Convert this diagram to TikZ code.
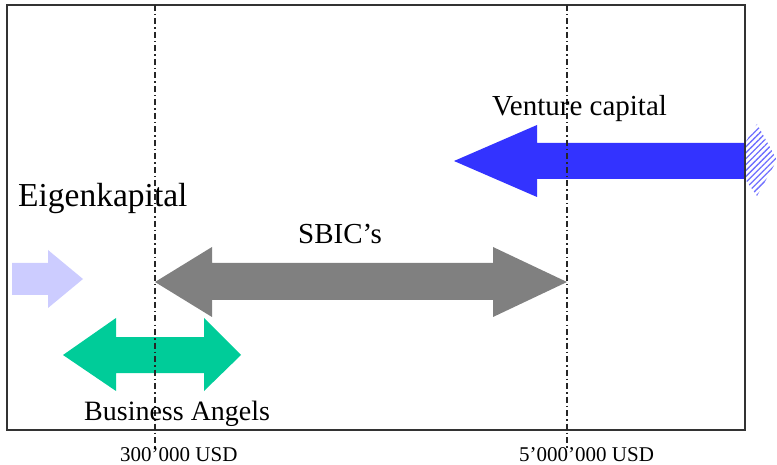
\documentclass[tikz,border=0pt]{standalone}
\usepackage{fontspec}
\setmainfont{Liberation Serif}
\usetikzlibrary{patterns.meta}
\definecolor{vcblue}{RGB}{51,51,255}
\definecolor{hatchblue}{RGB}{110,110,255}
\definecolor{sbicgray}{RGB}{128,128,128}
\definecolor{lav}{RGB}{204,204,255}
\definecolor{bagreen}{RGB}{0,204,153}
\begin{document}
\begin{tikzpicture}[x=1pt,y=-1pt,
  bigtext/.style={anchor=base west, inner sep=0pt, font=\fontsize{29}{32}\selectfont},
  smalltext/.style={anchor=base west, inner sep=0pt, font=\fontsize{21}{24}\selectfont},
  guide/.style={line width=1.1pt, dash pattern=on 6pt off 3pt on 1.5pt off 3pt, black!85},
  frame/.style={line width=1.4pt, black!80}]
\useasboundingbox (0,0) rectangle (777,465);
% Venture capital arrow
\fill[vcblue] (454,161) -- (537,125) -- (537,143) -- (745,143) -- (745,179) -- (537,179) -- (537,197) -- cycle;
\fill[pattern={Lines[angle=45,distance=4.2pt,line width=1.3pt]}, pattern color=hatchblue] (745,143) -- (757,124) -- (777,160) -- (757,196) -- (745,179) -- cycle;
% SBIC double arrow
\fill[sbicgray] (155,282) -- (212,247) -- (212,263) -- (493,263) -- (493,247) -- (567,282) -- (493,317) -- (493,300) -- (212,300) -- (212,317) -- cycle;
% Eigenkapital arrow
\fill[lav] (12,263) -- (48,263) -- (48,250) -- (83,279) -- (48,308) -- (48,295) -- (12,295) -- cycle;
% Business angels double arrow
\fill[bagreen] (63,355) -- (116,318) -- (116,337) -- (204,337) -- (204,318) -- (241,355) -- (204,391) -- (204,373) -- (116,373) -- (116,391) -- cycle;
% frame
\draw[frame] (7,5) rectangle (745,430);
% guides
\coordinate (g1top) at (155,5);
\coordinate (g1bot) at (155,448);
\coordinate (g2top) at (567,5);
\coordinate (g2bot) at (567,448);
\draw[guide] (g1top) -- (g1bot);
\draw[guide] (g2top) -- (g2bot);
% texts
\node[bigtext] (vc) at (492,116) {Venture capital};
\node[bigtext, font=\fontsize{33.5}{36}\selectfont] (ek) at (18,207) {Eigenkapital};
\node[bigtext] (sbic) at (298,244) {SBIC’s};
\node[bigtext, font=\fontsize{28}{32}\selectfont] (ba) at (84,420) {Business Angels};
\node[smalltext] (l1) at (120,461) {300’000 USD};
\node[smalltext] (l2) at (519,461) {5’000’000 USD};
\end{tikzpicture}
\end{document}
